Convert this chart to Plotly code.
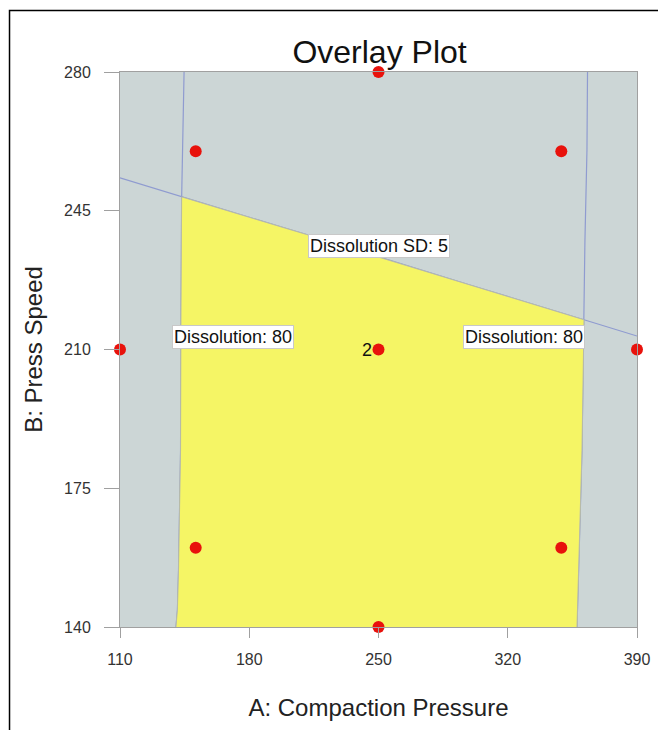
import plotly.graph_objects as go

# Factor ranges and tick labels
a_ticks = [110, 180, 250, 320, 390]
b_ticks = [140, 175, 210, 245, 280]

# Design points (rotatable central composite design)
design_a = [151, 349, 151, 349, 110, 390, 250, 250]
design_b = [260, 260, 160, 160, 210, 210, 280, 140]
center_a = [250]
center_b = [210]
center_reps = ["2"]

# Dissolution = 80 contour, left branch (top to bottom)
diss_left_a = [144.7, 144.1, 143.4, 143.0, 142.8, 141.7, 141.1, 140.3]
diss_left_b = [280.0, 260.3, 248.5, 217.4, 184.6, 154.4, 144.3, 140.0]

# Dissolution = 80 contour, right branch (top to bottom)
diss_right_a = [363.2, 362.9, 361.8, 361.3, 360.2, 358.4, 357.5]
diss_right_b = [280.0, 260.3, 237.4, 217.5, 184.6, 154.4, 140.0]

# Dissolution SD = 5 contour (left to right)
sd_a = [110.0, 143.4, 196.7, 211.1, 250.8, 300.0, 361.3, 390.0]
sd_b = [253.3, 248.5, 241.0, 239.0, 233.2, 226.2, 217.5, 213.4]

# Contour labels
label_text = ["Dissolution SD: 5", "Dissolution: 80", "Dissolution: 80"]
label_a = [250.0, 171.2, 328.8]
label_b = [236.2, 213.1, 213.1]

# Feasible (yellow) window: below the SD line, between the two dissolution branches
left_cut = sd_b[1]
right_cut = sd_b[-2]
poly_a, poly_b = [], []
for a, b in reversed(list(zip(diss_left_a, diss_left_b))):
    if b <= left_cut:
        poly_a.append(a); poly_b.append(b)
for a, b in zip(sd_a, sd_b):
    if sd_a[1] < a < sd_a[-2]:
        poly_a.append(a); poly_b.append(b)
for a, b in zip(diss_right_a, diss_right_b):
    if b <= right_cut:
        poly_a.append(a); poly_b.append(b)

line_blue = "#8f9bd0"
grey_axis = "#a0a0a0"

fig = go.Figure()

for xs, ys in [(diss_left_a, diss_left_b), (diss_right_a, diss_right_b), (sd_a, sd_b)]:
    fig.add_trace(go.Scatter(x=xs, y=ys, mode="lines",
                             line=dict(color=line_blue, width=1.2),
                             hoverinfo="skip"))

fig.add_trace(go.Scatter(x=poly_a, y=poly_b, mode="lines", fill="toself",
                         fillcolor="#f5f565",
                         line=dict(color="#b8bba8", width=1),
                         hoverinfo="skip"))

fig.add_trace(go.Scatter(x=design_a + center_a, y=design_b + center_b, mode="markers",
                         marker=dict(color="#e8120c", size=12),
                         cliponaxis=False))

annotations = [
    dict(x=a, y=b, text=t, showarrow=False, bgcolor="white",
         bordercolor="#c8c8c8", borderwidth=1, borderpad=1,
         font=dict(size=18, color="#111"))
    for t, a, b in zip(label_text, label_a, label_b)
]
# replicate count next to the centre point
annotations += [
    dict(x=a, y=b, text=t, showarrow=False, xanchor="right", xshift=-5,
         font=dict(size=18, color="#111"))
    for t, a, b in zip(center_reps, center_a, center_b)
]

fig.update_layout(
    width=658, height=730,
    margin=dict(l=120, r=21, t=72, b=103),
    paper_bgcolor="white", plot_bgcolor="#ccd6d6",
    showlegend=False,
    font=dict(family="Liberation Sans, Arial, sans-serif", color="#222"),
    title=dict(text="Overlay Plot", x=0.502, xref="paper", xanchor="center",
               y=1 - 51.5 / 730, yref="container", yanchor="middle",
               font=dict(size=32, color="#111")),
    annotations=annotations,
    shapes=[dict(type="rect", xref="paper", yref="paper",
                 x0=-0.2137, x1=1.05, y0=-0.2, y1=1.1108,
                 line=dict(color="black", width=1.5), layer="above")],
)

fig.update_xaxes(range=[110, 390], tickvals=a_ticks, ticks="outside", ticklen=10,
                 tickcolor=grey_axis, showline=True, linecolor=grey_axis, mirror=True,
                 showgrid=False, zeroline=False, ticklabelstandoff=8, automargin=False,
                 tickfont=dict(size=16, color="#333"),
                 title=dict(text="A: Compaction Pressure", standoff=31,
                            font=dict(size=24, color="#222")))
fig.update_yaxes(range=[140, 280], tickvals=b_ticks, ticks="outside", ticklen=15,
                 tickcolor=grey_axis, showline=True, linecolor=grey_axis, mirror=True,
                 showgrid=False, zeroline=False, ticklabelstandoff=10, automargin=False,
                 tickfont=dict(size=16, color="#333"),
                 title=dict(text="B: Press Speed", standoff=14,
                            font=dict(size=24, color="#222")))

fig.write_html("out.html")
